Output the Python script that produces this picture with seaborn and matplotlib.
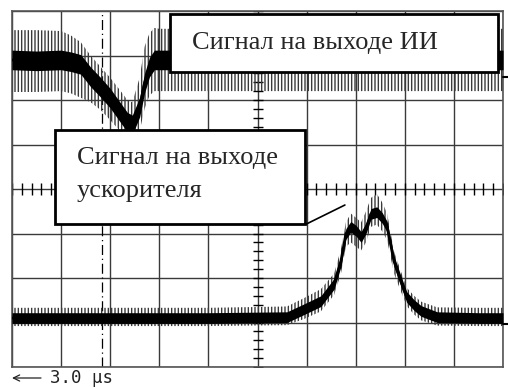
import numpy as np
import pandas as pd
import matplotlib
matplotlib.use("Agg")
import matplotlib.pyplot as plt
import seaborn as sns
from matplotlib.patches import Rectangle

# ---- data (oscilloscope divisions: x 0..10, y 0..8) ----
ii_t = [0, 0.5, 1.0, 1.2, 1.4, 1.6, 1.8, 2.0, 2.2, 2.35, 2.45, 2.6, 2.7, 2.8, 2.9, 3.0, 10]
ii_core = [6.9, 6.88, 6.9, 6.86, 6.8, 6.52, 6.29, 6.04, 5.73, 5.5, 5.44, 5.84, 6.38, 6.74, 6.9, 6.9, 6.9]
ii_hi = [7.57, 7.57, 7.55, 7.45, 7.3, 7.0, 6.75, 6.5, 6.22, 6.0, 5.95, 6.5, 7.2, 7.5, 7.62, 7.6, 7.6]
ii_lo = [6.18, 6.18, 6.2, 6.15, 6.05, 5.95, 5.78, 5.55, 5.3, 5.1, 5.0, 5.3, 5.8, 6.1, 6.2, 6.2, 6.2]

acc_t = [0, 2, 4, 5.6, 5.95, 6.29, 6.56, 6.70, 6.80, 6.90, 7.01, 7.11, 7.21, 7.31,
         7.43, 7.54, 7.64, 7.78, 7.92, 8.04, 8.19, 8.33, 8.66, 9.5, 10]
acc_core = [1.1, 1.1, 1.1, 1.12, 1.30, 1.48, 1.87, 2.38, 2.99, 3.15, 3.06, 2.92, 3.12, 3.44,
            3.48, 3.35, 3.15, 2.38, 1.93, 1.57, 1.39, 1.26, 1.12, 1.1, 1.1]
acc_hi = [1.33, 1.33, 1.33, 1.36, 1.55, 1.75, 2.1, 2.65, 3.25, 3.45, 3.35, 3.25, 3.5, 3.8,
          3.89, 3.7, 3.45, 2.6, 2.15, 1.78, 1.6, 1.47, 1.34, 1.33, 1.33]
acc_lo = [0.92, 0.92, 0.92, 0.94, 1.08, 1.25, 1.62, 2.1, 2.7, 2.8, 2.7, 2.62, 2.8, 3.15,
          3.2, 3.05, 2.85, 2.1, 1.7, 1.37, 1.18, 1.05, 0.93, 0.92, 0.92]

label_ii = "Сигнал на выходе ИИ"
label_acc = ["Сигнал на выходе", "ускорителя"]
timebase = "3.0 \u00b5s"

# ---- figure ----
sns.set_style("white")
plt.rcParams["font.family"] = ["Liberation Serif", "DejaVu Serif"]
plt.rcParams["hatch.linewidth"] = 1.0

fig = plt.figure(figsize=(5.08, 3.88), dpi=100)
ax = fig.add_axes([12 / 508, 21 / 388, 491 / 508, 356 / 388])
ax.set_xlim(0, 10)
ax.set_ylim(0, 8)
ax.set_xticks(range(11))
ax.set_yticks(range(9))
ax.tick_params(length=0, labelbottom=False, labelleft=False)
ax.grid(True, color="#3a3a3a", lw=1.0)
for s in ax.spines.values():
    s.set_color("#555555")
    s.set_linewidth(1.2)

# centre cross graticule with minor ticks
cx = np.arange(0, 10.01, 0.2)
cy = np.arange(0, 8.01, 0.2)
ax.plot(cx, np.full_like(cx, 4.0), ls="none", marker="|", ms=8, mew=1.0, color="black", zorder=2)
ax.plot(np.full_like(cy, 5.0), cy, ls="none", marker="_", ms=7, mew=1.0, color="black", zorder=2)
ax.axvline(1.83, color="black", lw=0.9, ls=(0, (8, 3, 1, 3)), zorder=2)

# traces: hatched envelope (noise spikes) + solid core
for t, core, hi, lo, hw in [(ii_t, ii_core, ii_hi, ii_lo, 0.22),
                             (acc_t, acc_core, acc_hi, acc_lo, 0.12)]:
    ax.fill_between(t, lo, hi, facecolor="none", edgecolor="#3a3a3a", hatch="|||||",
                    linewidth=0, zorder=3)
    ax.fill_between(t, np.array(core) - hw, np.array(core) + hw, color="black",
                    linewidth=0, zorder=4)
    df = pd.DataFrame({"t": t, "v": core})
    sns.lineplot(data=df, x="t", y="v", ax=ax, color="black", lw=2, zorder=5)
ax.set_xlabel("")
ax.set_ylabel("")

# channel level markers on right edge
ax.plot([10, 10.12], [6.52, 6.52], color="black", lw=1.5, clip_on=False, zorder=6)
ax.plot([10, 10.12], [0.97, 0.97], color="black", lw=1.5, clip_on=False, zorder=6)

# callout boxes
ax.add_patch(Rectangle((3.218, 6.63), 9.898 - 3.218, 7.93 - 6.63, facecolor="white",
                       edgecolor="black", lw=2, zorder=8))
ax.text(3.666, 7.146, label_ii, fontsize=19, va="baseline", ha="left", zorder=9)

ax.add_patch(Rectangle((0.876, 3.213), 5.967 - 0.876, 5.326 - 3.213, facecolor="white",
                       edgecolor="black", lw=2, zorder=8))
ax.text(1.324, 4.562, label_acc[0], fontsize=19, va="baseline", ha="left", zorder=9)
ax.text(1.324, 3.82, label_acc[1], fontsize=19, va="baseline", ha="left", zorder=9)
ax.plot([5.99, 6.78], [3.21, 3.64], color="black", lw=1.2, zorder=9)

# time base annotation
ax.annotate("", xy=(12, 10), xytext=(41, 10), xycoords="figure pixels",
            textcoords="figure pixels",
            arrowprops=dict(arrowstyle="->,head_length=0.45,head_width=0.22",
                            lw=0.9, color="#222222", shrinkA=0, shrinkB=0))
fig.text(50 / 508, 1 - 378 / 388, timebase, fontsize=12.5, va="center", ha="left",
         family=["DejaVu Sans Mono", "DejaVu Sans"], color="#222222")

fig.savefig("out.png", dpi=100)
